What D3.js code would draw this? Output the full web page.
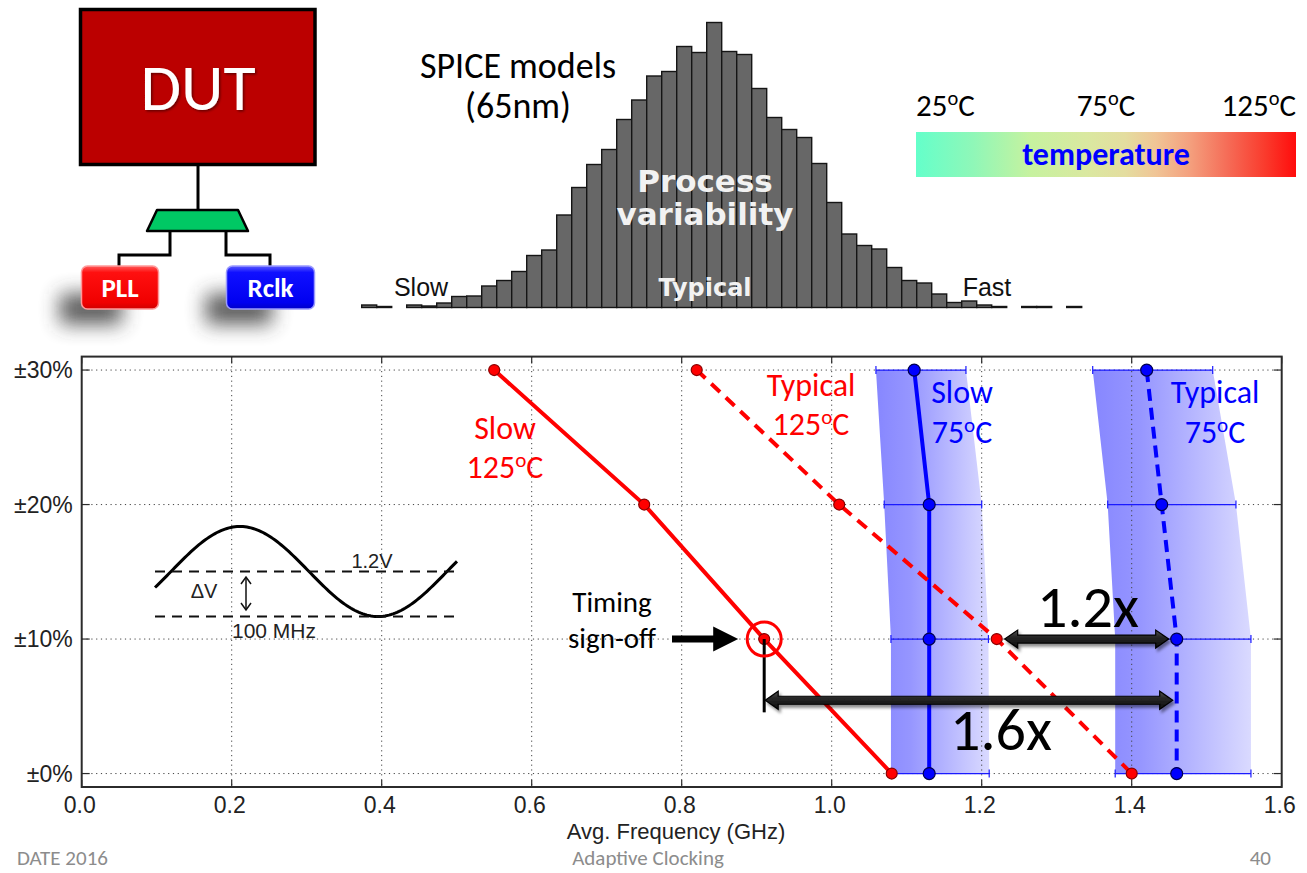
<!DOCTYPE html>
<html>
<head>
<meta charset="utf-8">
<script src="https://cdn.jsdelivr.net/npm/d3@7"></script>
<style>
  html, body { margin: 0; background: #fff; }
  svg { display: block; }
</style>
</head>
<body>
<svg id="slide" width="1307" height="873"></svg>
<script>
// ---------------- data ----------------
// supply-noise amplitude levels (percent) and their tick labels
const noiseLevels = [30, 20, 10, 0];
const noiseLabels = ["±30%", "±20%", "±10%", "±0%"];
// frequency axis ticks (GHz)
const freqTicks = [0.0, 0.2, 0.4, 0.6, 0.8, 1.0, 1.2, 1.4, 1.6];

// PLL clocking at 125°C (one value per noise level)
const slow125 = [0.55, 0.75, 0.91, 1.08];
const typical125 = [0.82, 1.01, 1.22, 1.40];

// adaptive clocking at 75°C with its spread across temperature
const slow75 = [1.11, 1.13, 1.13, 1.13];
const slow75Low = [1.059, 1.070, 1.079, 1.079];
const slow75High = [1.179, 1.200, 1.209, 1.210];
const typical75 = [1.42, 1.44, 1.46, 1.46];
const typical75Low = [1.348, 1.368, 1.378, 1.378];
const typical75High = [1.508, 1.539, 1.559, 1.559];

// Monte-Carlo process histogram (relative counts per bin)
const processCounts = [5, 2, 0, 5, 3, 9, 22, 23, 43, 54, 72, 104, 115, 185, 240, 286,
  316, 376, 415, 463, 472, 522, 510, 570, 512, 506, 438, 380, 356, 340, 288, 210,
  147, 124, 117, 80, 54, 49, 27, 10, 13, 5, 2, 0, 2, 2, 0, 2];

// temperature colour bar labels
const tempLabels = ["25", "75", "125"];

// ---------------- drawing ----------------
const svg = d3.select("#slide");
const defs = svg.append("defs");
const SLIDE_FONT = "Carlito, Lato, 'Open Sans', sans-serif";
const PLOT_FONT = "'Liberation Sans', Arial, sans-serif";
const NARROW_FONT = "'Liberation Sans Narrow', 'Liberation Sans', Arial, sans-serif";
const VERD = "'DejaVu Sans', Verdana, sans-serif";

svg.append("rect").attr("width", 1307).attr("height", 873).attr("fill", "#fff");

// filters
const blur = defs.append("filter").attr("id", "softShadow")
  .attr("x", "-80%").attr("y", "-80%").attr("width", "260%").attr("height", "260%");
blur.append("feGaussianBlur").attr("stdDeviation", 10);

const drop = defs.append("filter").attr("id", "arrowShadow")
  .attr("x", "-10%").attr("y", "-60%").attr("width", "120%").attr("height", "220%");
drop.append("feDropShadow").attr("dx", 2).attr("dy", 3).attr("stdDeviation", 1.8)
  .attr("flood-color", "#000").attr("flood-opacity", 0.45);

const textShadow = defs.append("filter").attr("id", "textShadow")
  .attr("x", "-10%").attr("y", "-20%").attr("width", "130%").attr("height", "150%");
textShadow.append("feDropShadow").attr("dx", 1.5).attr("dy", 1.5).attr("stdDeviation", 1)
  .attr("flood-color", "#000").attr("flood-opacity", 0.45);

function vGrad(id, stops) {
  const g = defs.append("linearGradient").attr("id", id)
    .attr("x1", 0).attr("y1", 0).attr("x2", 0).attr("y2", 1);
  stops.forEach(([o, c]) => g.append("stop").attr("offset", o).attr("stop-color", c));
}
function hGrad(id, stops) {
  const g = defs.append("linearGradient").attr("id", id)
    .attr("x1", 0).attr("y1", 0).attr("x2", 1).attr("y2", 0);
  stops.forEach(([o, c]) => g.append("stop").attr("offset", o).attr("stop-color", c));
}
vGrad("pllFill", [[0, "#ff5a5a"], [0.15, "#ff1010"], [0.85, "#f00000"], [1, "#d00000"]]);
vGrad("rclkFill", [[0, "#5a5aff"], [0.15, "#1010ff"], [0.85, "#0000f0"], [1, "#0000c8"]]);
vGrad("arrowFill", [[0, "#555"], [0.35, "#2a2a2a"], [1, "#0a0a0a"]]);
hGrad("bandFill", [[0, "#8080ff"], [0.3, "#9090ff"], [1, "#d8d8ff"]]);
hGrad("tempFill", [[0, "#64ffca"], [0.15, "#8ff7b8"], [0.3, "#c6f29f"], [0.45, "#dae8a0"],
  [0.55, "#e4dd9f"], [0.63, "#f0c596"], [0.72, "#f4a07e"], [0.82, "#f56c57"],
  [0.92, "#fa3a2c"], [1, "#ff0c0c"]]);

// append a run "NNoC" (superscript o) to a text element
function degreeRun(t, num, size, x, dy) {
  const a = t.append("tspan").text(num);
  if (x !== undefined) a.attr("x", x);
  if (dy !== undefined) a.attr("dy", dy);
  t.append("tspan").attr("font-size", size * 0.66).attr("dy", -size * 0.34).text("o");
  t.append("tspan").attr("dy", size * 0.34).text("C");
}
function degreeText(g, x, y, num, opts) {
  const t = g.append("text").attr("x", x).attr("y", y)
    .attr("font-family", SLIDE_FONT).attr("font-size", opts.size).attr("fill", opts.color)
    .attr("text-anchor", opts.anchor || "middle");
  degreeRun(t, num, opts.size);
  return t;
}
// two-line label: a name above a temperature
function seriesLabel(g, x, y, name, num, size, gap, color) {
  const t = g.append("text").attr("x", x).attr("y", y)
    .attr("font-family", SLIDE_FONT).attr("font-size", size).attr("fill", color)
    .attr("text-anchor", "middle");
  t.append("tspan").attr("x", x).text(name);
  degreeRun(t, num, size, x, gap);
  return t;
}
// multi-line plain label
function lines(g, x, y, rows, gap, attrs) {
  const t = g.append("text").attr("x", x).attr("y", y).attr("text-anchor", "middle");
  Object.entries(attrs).forEach(([k, v]) => t.attr(k, v));
  rows.forEach((r, i) => t.append("tspan").attr("x", x).attr("dy", i ? gap : 0).text(r));
  return t;
}

// ======== block diagram: DUT, clock mux, PLL and Rclk ========
const diag = svg.append("g");
diag.append("rect").attr("x", 60).attr("y", 294).attr("width", 62).attr("height", 30)
  .attr("fill", "#3a3a3a").attr("opacity", 0.85).attr("filter", "url(#softShadow)");
diag.append("rect").attr("x", 206).attr("y", 294).attr("width", 66).attr("height", 30)
  .attr("fill", "#3a3a3a").attr("opacity", 0.85).attr("filter", "url(#softShadow)");

diag.append("rect").attr("x", 80.5).attr("y", 9.5).attr("width", 234.5).attr("height", 155)
  .attr("fill", "#bb0000").attr("stroke", "#000").attr("stroke-width", 3.5);
diag.append("text").attr("x", 198).attr("y", 110).attr("text-anchor", "middle")
  .attr("font-family", SLIDE_FONT).attr("font-size", 66).attr("fill", "#fff")
  .attr("filter", "url(#textShadow)").text("DUT");

const wires = [
  [[198, 165], [198, 210]],
  [[170, 231], [170, 255], [119, 255], [119, 266]],
  [[226, 231], [226, 255], [270, 255], [270, 266]]
];
wires.forEach(w => diag.append("path").attr("d", d3.line()(w))
  .attr("fill", "none").attr("stroke", "#000").attr("stroke-width", 3));

diag.append("path").attr("d", d3.line()([[157, 210], [238, 210], [248, 231], [147, 231]]) + "Z")
  .attr("fill", "#00c864").attr("stroke", "#000").attr("stroke-width", 2.5)
  .attr("stroke-linejoin", "round");

[["PLL", 81.5, 77, "url(#pllFill)", "#ff9a9a"], ["Rclk", 226.5, 88, "url(#rclkFill)", "#9a9aff"]]
  .forEach(([label, x, w, fill, edge]) => {
    diag.append("rect").attr("x", x).attr("y", 266).attr("width", w).attr("height", 43)
      .attr("rx", 6).attr("fill", fill).attr("stroke", edge).attr("stroke-width", 1.5);
    diag.append("text").attr("x", x + w / 2).attr("y", 297).attr("text-anchor", "middle")
      .attr("font-family", SLIDE_FONT).attr("font-weight", "bold").attr("font-size", 27)
      .attr("fill", "#fff").text(label);
  });

// ======== process variability histogram ========
const hist = svg.append("g");
const hx = d3.scaleBand().domain(d3.range(processCounts.length)).range([361.7, 1081.7]).padding(0);
const hy = d3.scaleLinear().domain([0, 570]).range([307.5, 22.5]);
hist.selectAll("rect.bin")
  .data(processCounts.map((c, i) => ({ c, i })).filter(d => d.c > 0))
  .join("rect")
  .attr("class", "bin")
  .attr("x", d => hx(d.i))
  .attr("y", d => hy(d.c))
  .attr("width", hx.bandwidth())
  .attr("height", d => hy(0) - hy(d.c))
  .attr("fill", "#676767").attr("stroke", "#151515").attr("stroke-width", 1.4);

lines(hist, 518, 78, ["SPICE models", "(65nm)"], 40,
  { "font-family": SLIDE_FONT, "font-size": 36, fill: "#000" });
hist.append("text").attr("x", 421).attr("y", 296).attr("text-anchor", "middle")
  .attr("font-family", PLOT_FONT).attr("font-size", 25).attr("fill", "#111").text("Slow");
hist.append("text").attr("x", 987).attr("y", 296).attr("text-anchor", "middle")
  .attr("font-family", PLOT_FONT).attr("font-size", 25).attr("fill", "#111").text("Fast");
lines(hist, 705, 192, ["Process", "variability"], 33,
  { "font-family": VERD, "font-weight": "bold", "font-size": 31, fill: "#f2f2f2" });
hist.append("text").attr("x", 705).attr("y", 296).attr("text-anchor", "middle")
  .attr("font-family", VERD).attr("font-weight", "bold").attr("font-size", 24)
  .attr("fill", "#f2f2f2").text("Typical");

// ======== temperature colour bar ========
const temp = svg.append("g");
temp.append("rect").attr("x", 916).attr("y", 132).attr("width", 380).attr("height", 45)
  .attr("fill", "url(#tempFill)");
temp.append("text").attr("x", 1106).attr("y", 165).attr("text-anchor", "middle")
  .attr("font-family", SLIDE_FONT).attr("font-weight", "bold").attr("font-size", 32)
  .attr("fill", "#0000ff").text("temperature");
const tempX = [916, 1106, 1296];
const tempAnchor = ["start", "middle", "end"];
tempLabels.forEach((t, i) => degreeText(temp, tempX[i], 116, t,
  { size: 31, color: "#000", anchor: tempAnchor[i] }));

// ======== frequency vs. supply noise plot ========
const x = d3.scaleLinear().domain([0, 1.6]).range([81.7, 1281.7]);
const y = d3.scaleLinear().domain([-1, 31]).range([787, 356.6]);
const plot = svg.append("g");

// shaded temperature spread bands
function band(lo, hi) {
  const pts = noiseLevels.map((v, i) => [x(lo[i]), y(v)])
    .concat(noiseLevels.map((v, i) => [x(hi[i]), y(v)]).reverse());
  plot.append("path").attr("d", d3.line()(pts) + "Z")
    .attr("fill", "url(#bandFill)").attr("fill-opacity", 0.95);
}
band(slow75Low, slow75High);
band(typical75Low, typical75High);

// dotted grid
const grid = plot.append("g").attr("stroke", "#444").attr("stroke-width", 1)
  .attr("stroke-dasharray", "1.2,3.6");
freqTicks.slice(1, -1).forEach(t => grid.append("line")
  .attr("x1", x(t)).attr("x2", x(t)).attr("y1", y(31)).attr("y2", y(-1)));
noiseLevels.forEach(v => grid.append("line")
  .attr("x1", x(0)).attr("x2", x(1.6)).attr("y1", y(v)).attr("y2", y(v)));

// horizontal spread bars with caps
function spreadBars(lo, hi) {
  const g = plot.append("g").attr("stroke", "#1a1aff").attr("stroke-width", 1.2);
  noiseLevels.forEach((v, i) => {
    g.append("line").attr("x1", x(lo[i])).attr("x2", x(hi[i])).attr("y1", y(v)).attr("y2", y(v));
    [lo[i], hi[i]].forEach(e => g.append("line").attr("x1", x(e)).attr("x2", x(e))
      .attr("y1", y(v) - 4).attr("y2", y(v) + 4));
  });
}
spreadBars(slow75Low, slow75High);
spreadBars(typical75Low, typical75High);

// axes (matplotlib style: inward ticks on every side)
plot.append("rect").attr("x", x(0)).attr("y", y(31)).attr("width", x(1.6) - x(0))
  .attr("height", y(-1) - y(31)).attr("fill", "none").attr("stroke", "#2b2b2b").attr("stroke-width", 2);
const ticks = plot.append("g").attr("stroke", "#2b2b2b").attr("stroke-width", 1.2);
freqTicks.forEach(t => {
  ticks.append("line").attr("x1", x(t)).attr("x2", x(t)).attr("y1", y(-1)).attr("y2", y(-1) - 7);
  ticks.append("line").attr("x1", x(t)).attr("x2", x(t)).attr("y1", y(31)).attr("y2", y(31) + 7);
});
noiseLevels.forEach(v => {
  ticks.append("line").attr("x1", x(0)).attr("x2", x(0) + 8).attr("y1", y(v)).attr("y2", y(v));
  ticks.append("line").attr("x1", x(1.6)).attr("x2", x(1.6) - 8).attr("y1", y(v)).attr("y2", y(v));
});
freqTicks.forEach(t => plot.append("text").attr("x", x(t) - 2).attr("y", y(-1) + 26)
  .attr("text-anchor", "middle").attr("font-family", NARROW_FONT).attr("font-size", 23)
  .attr("fill", "#222").text(t.toFixed(1)));
noiseLevels.forEach((v, i) => plot.append("text").attr("x", x(0) - 9).attr("y", y(v) + 8)
  .attr("text-anchor", "end").attr("font-family", PLOT_FONT).attr("font-size", 23)
  .attr("fill", "#222").text(noiseLabels[i]));
plot.append("text").attr("x", 676).attr("y", 839).attr("text-anchor", "middle")
  .attr("font-family", NARROW_FONT).attr("font-size", 22).attr("fill", "#222")
  .text("Avg. Frequency (GHz)");

// series lines and markers
function series(values, color, dash, r, edge) {
  const pts = noiseLevels.map((v, i) => [x(values[i]), y(v)]);
  plot.append("path").attr("d", d3.line()(pts)).attr("fill", "none")
    .attr("stroke", color).attr("stroke-width", 4).attr("stroke-dasharray", dash);
  plot.append("g").selectAll("circle").data(pts).join("circle")
    .attr("cx", d => d[0]).attr("cy", d => d[1]).attr("r", r)
    .attr("fill", color).attr("stroke", edge).attr("stroke-width", 1.2);
}
series(slow75, "#0000ff", null, 6, "#000050");
series(typical75, "#0000ff", "12,7", 6, "#000050");
series(slow125, "#ff0000", null, 5.5, "#8a0000");
series(typical125, "#ff0000", "12,8", 5.5, "#8a0000");

// series labels
const red = "#ff0000", blue = "#0000ff";
seriesLabel(plot, 505, 439, "Slow", "125", 32, 39, red);
seriesLabel(plot, 811, 396, "Typical", "125", 32, 39, red);
seriesLabel(plot, 962, 403, "Slow", "75", 32, 40, blue);
seriesLabel(plot, 1215, 403, "Typical", "75", 32, 40, blue);

// sine-wave supply noise inset
const inset = plot.append("g");
const waveY0 = 571.5, waveAmp = 45, waveStart = 155, waveEnd = 458, wavePeak = 240, wavePeriod = 276;
const wave = d3.range(waveStart, waveEnd + 1, 2).map(px =>
  [px, waveY0 - waveAmp * Math.cos((px - wavePeak) / wavePeriod * 2 * Math.PI)]);
inset.append("path").attr("d", d3.line()(wave)).attr("fill", "none")
  .attr("stroke", "#000").attr("stroke-width", 3);
[waveY0, waveY0 + waveAmp].forEach(yy => inset.append("line")
  .attr("x1", waveStart).attr("x2", waveEnd).attr("y1", yy).attr("y2", yy)
  .attr("stroke", "#111").attr("stroke-width", 1.8).attr("stroke-dasharray", "10,7"));
inset.append("line").attr("x1", 246).attr("x2", 246).attr("y1", 578).attr("y2", 609)
  .attr("stroke", "#111").attr("stroke-width", 1.5);
inset.append("path").attr("d", "M241,584 L246,577 L251,584 M241,603 L246,610 L251,603")
  .attr("fill", "none").attr("stroke", "#111").attr("stroke-width", 1.5);
inset.append("text").attr("x", 372).attr("y", 568).attr("text-anchor", "middle")
  .attr("font-family", PLOT_FONT).attr("font-size", 20).attr("fill", "#222").text("1.2V");
inset.append("text").attr("x", 204).attr("y", 598).attr("text-anchor", "middle")
  .attr("font-family", PLOT_FONT).attr("font-size", 20).attr("fill", "#222").text("ΔV");
inset.append("text").attr("x", 232).attr("y", 638).attr("text-anchor", "start")
  .attr("font-family", PLOT_FONT).attr("font-size", 21).attr("fill", "#222").text("100 MHz");

// ======== annotations: timing sign-off and speed-up arrows ========
function arrowPath(x1, x2, yc, headL, headH, shaftH, leftHead, rightHead) {
  const p = d3.path();
  if (leftHead) {
    p.moveTo(x1, yc); p.lineTo(x1 + headL, yc - headH); p.lineTo(x1 + headL, yc - shaftH);
  } else p.moveTo(x1, yc - shaftH);
  if (rightHead) {
    p.lineTo(x2 - headL, yc - shaftH); p.lineTo(x2 - headL, yc - headH);
    p.lineTo(x2, yc); p.lineTo(x2 - headL, yc + headH); p.lineTo(x2 - headL, yc + shaftH);
  } else { p.lineTo(x2, yc - shaftH); p.lineTo(x2, yc + shaftH); }
  if (leftHead) {
    p.lineTo(x1 + headL, yc + shaftH); p.lineTo(x1 + headL, yc + headH);
  } else p.lineTo(x1, yc + shaftH);
  p.closePath();
  return p.toString();
}
const ann = svg.append("g");
const signOffX = x(slow125[2]), signOffY = y(noiseLevels[2]);
const gainLevel = 5.45, dropLevel = 4.55;

ann.append("line").attr("x1", signOffX).attr("x2", signOffX)
  .attr("y1", signOffY).attr("y2", y(dropLevel)).attr("stroke", "#000").attr("stroke-width", 3);
ann.append("circle").attr("cx", signOffX).attr("cy", signOffY).attr("r", 17)
  .attr("fill", "none").attr("stroke", "#ff0000").attr("stroke-width", 3);

// 1.2x: typical 125°C -> typical 75°C at ±10%
ann.append("path")
  .attr("d", arrowPath(x(typical125[2]) + 8, x(typical75[2]) - 8, y(noiseLevels[2]), 13, 9, 4, true, true))
  .attr("fill", "url(#arrowFill)").attr("stroke", "#000").attr("stroke-width", 1.2)
  .attr("filter", "url(#arrowShadow)");
// 1.6x: slow 125°C sign-off -> typical 75°C
ann.append("path")
  .attr("d", arrowPath(signOffX + 1, x(typical75[2]) - 4, y(gainLevel), 13, 9, 4, true, true))
  .attr("fill", "url(#arrowFill)").attr("stroke", "#000").attr("stroke-width", 1.2)
  .attr("filter", "url(#arrowShadow)");
// pointer to the sign-off point
ann.append("path")
  .attr("d", arrowPath(672, signOffX - 26, signOffY, 25, 12.5, 3.5, false, true))
  .attr("fill", "#000");

lines(ann, 612, 612, ["Timing", "sign-off"], 36,
  { "font-family": SLIDE_FONT, "font-size": 29, fill: "#000" });
ann.append("text").attr("x", 1088).attr("y", 627).attr("text-anchor", "middle")
  .attr("font-family", SLIDE_FONT).attr("font-size", 60).attr("fill", "#000").text("1.2x");
ann.append("text").attr("x", 1001).attr("y", 750).attr("text-anchor", "middle")
  .attr("font-family", SLIDE_FONT).attr("font-size", 60).attr("fill", "#000").text("1.6x");

// ======== slide footer ========
const foot = svg.append("g").attr("font-family", SLIDE_FONT).attr("font-size", 21).attr("fill", "#8c8c8c");
foot.append("text").attr("x", 17).attr("y", 865).text("DATE 2016");
foot.append("text").attr("x", 648).attr("y", 865).attr("text-anchor", "middle").text("Adaptive Clocking");
foot.append("text").attr("x", 1271).attr("y", 865).attr("text-anchor", "end").text("40");
</script>
</body>
</html>
